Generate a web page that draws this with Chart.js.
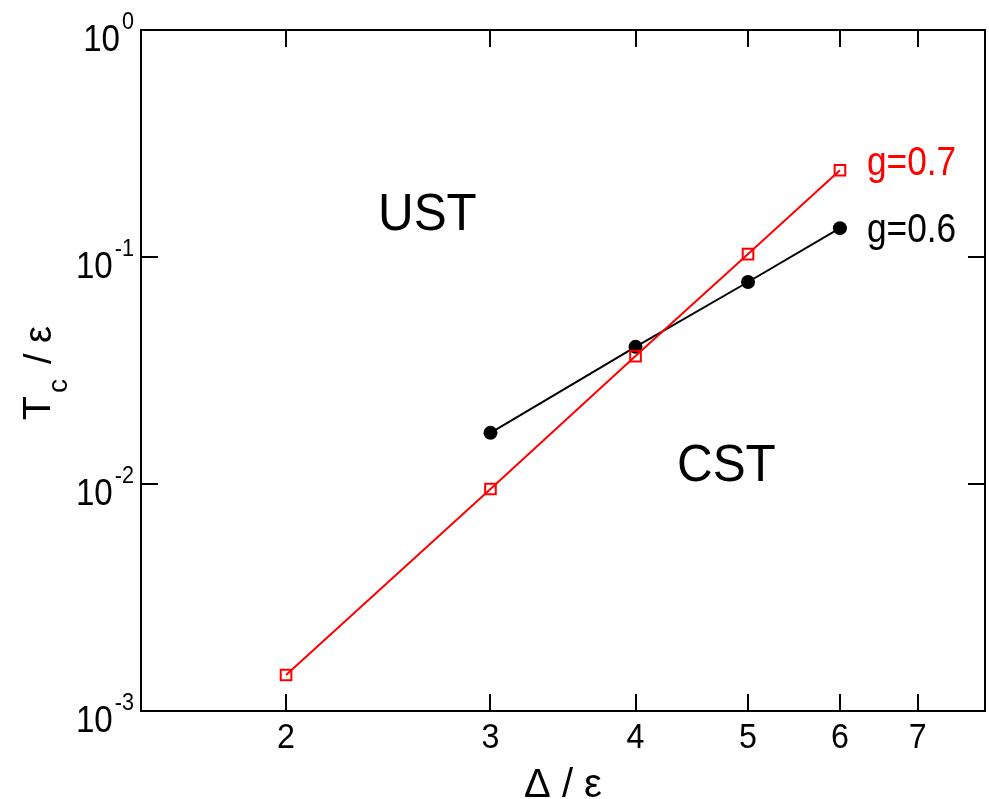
<!DOCTYPE html>
<html>
<head>
<meta charset="utf-8">
<script src="https://cdn.jsdelivr.net/npm/chart.js@4"></script>
<style>html,body{margin:0;padding:0;background:#fff;overflow:hidden}</style>
</head>
<body>
<canvas id="c" width="999" height="799"></canvas>
<script>
// ===== Tc vs Delta phase diagram (log-log) =====

// data
const deltaG07 = [2, 3, 4, 5, 6];
const tcG07 = [0.00144, 0.0095, 0.0366, 0.103, 0.241];
const deltaG06 = [3, 4, 5, 6];
const tcG06 = [0.0168, 0.0402, 0.0776, 0.134];

// tick labels
const xTicks = [2, 3, 4, 5, 6, 7];
const yTicks = [0.001, 0.01, 0.1, 1];
const yTickExponents = ['-3', '-2', '-1', '0'];

const FONT = '"Liberation Sans", Arial, Helvetica, sans-serif';
const RED = '#ff0000';

function drawText(ctx, text, x, y, { size = 30, sx = 1, color = '#000', align = 'left', family = FONT } = {}) {
    ctx.save();
    ctx.font = `${size}px ${family}`;
    ctx.fillStyle = color;
    ctx.textBaseline = 'alphabetic';
    ctx.textAlign = align;
    ctx.translate(x, y);
    ctx.scale(sx, 1);
    ctx.fillText(text, 0, 0);
    ctx.restore();
}

function textWidth(ctx, text, size, sx = 1) {
    ctx.save();
    ctx.font = `${size}px ${FONT}`;
    const w = ctx.measureText(text).width * sx;
    ctx.restore();
    return w;
}

/** frame, inward ticks, tick labels, titles and annotations */
const framePlugin = {
    id: 'frame',
    afterDraw(chart) {
        const { ctx, chartArea: a, scales } = chart;
        const tickLen = 17;
        ctx.save();
        ctx.strokeStyle = '#000';
        ctx.lineWidth = 2;
        ctx.strokeRect(a.left, a.top, a.right - a.left, a.bottom - a.top);

        ctx.beginPath();
        xTicks.forEach(v => {
            const px = Math.round(scales.x.getPixelForValue(v));
            ctx.moveTo(px, a.bottom);
            ctx.lineTo(px, a.bottom - tickLen);
            ctx.moveTo(px, a.top);
            ctx.lineTo(px, a.top + tickLen);
        });
        yTicks.forEach(v => {
            const py = Math.round(scales.y.getPixelForValue(v));
            ctx.moveTo(a.left, py);
            ctx.lineTo(a.left + tickLen, py);
            ctx.moveTo(a.right, py);
            ctx.lineTo(a.right - tickLen, py);
        });
        ctx.stroke();
        ctx.restore();

        // x tick labels
        xTicks.forEach(v => {
            const px = scales.x.getPixelForValue(v);
            drawText(ctx, String(v), px, a.bottom + 37, { size: 35, sx: 0.92, align: 'center' });
        });

        // y tick labels 10^n
        yTicks.forEach((v, i) => {
            const py = scales.y.getPixelForValue(v);
            const exp = yTickExponents[i];
            const supW = textWidth(ctx, exp, 24, 0.9);
            const right = a.left - 7;
            drawText(ctx, exp, right, py - 1, { size: 24, sx: 0.9, align: 'right' });
            drawText(ctx, '10', right - supW - 2, py + 21, { size: 36, sx: 0.92, align: 'right' });
        });

        // axis titles
        drawText(ctx, 'Δ / ε', (a.left + a.right) / 2, 797, { size: 40, align: 'center' });

        ctx.save();
        ctx.translate(50, 420);
        ctx.rotate(-Math.PI / 2);
        drawText(ctx, 'T', 0, 0, { size: 39 });
        drawText(ctx, 'c', 27, 17, { size: 28 });
        drawText(ctx, '/ ε', 56, 1, { size: 38 });
        ctx.restore();

        // region and series labels
        drawText(ctx, 'UST', 378, 230, { size: 52, sx: 0.95 });
        drawText(ctx, 'CST', 677, 481, { size: 52, sx: 0.95 });
        drawText(ctx, 'g=0.7', 867, 175, { size: 41, sx: 0.86, color: RED });
        drawText(ctx, 'g=0.6', 867, 242, { size: 41, sx: 0.86 });
    },
};

new Chart(document.getElementById('c'), {
    type: 'line',
    data: {
        datasets: [
            {
                label: 'g=0.7',
                data: deltaG07.map((d, i) => ({ x: d, y: tcG07[i] })),
                borderColor: RED,
                borderWidth: 2,
                pointStyle: 'rect',
                pointRadius: 7.5,
                pointBorderWidth: 2,
                pointBorderColor: RED,
                pointBackgroundColor: 'rgba(0,0,0,0)',
                tension: 0,
                fill: false,
            },
            {
                label: 'g=0.6',
                data: deltaG06.map((d, i) => ({ x: d, y: tcG06[i] })),
                borderColor: '#000',
                borderWidth: 2,
                pointStyle: 'circle',
                pointRadius: 7,
                pointBorderWidth: 0,
                pointBackgroundColor: '#000',
                tension: 0,
                fill: false,
            },
        ],
    },
    options: {
        responsive: false,
        animation: false,
        layout: { padding: { left: 141, right: 14, top: 30, bottom: 88 } },
        plugins: {
            legend: { display: false },
            tooltip: { enabled: false },
        },
        scales: {
            x: { type: 'logarithmic', min: 1.5, max: 8, display: false },
            y: { type: 'logarithmic', min: 0.001, max: 1, display: false },
        },
    },
    plugins: [framePlugin],
});
</script>
</body>
</html>
